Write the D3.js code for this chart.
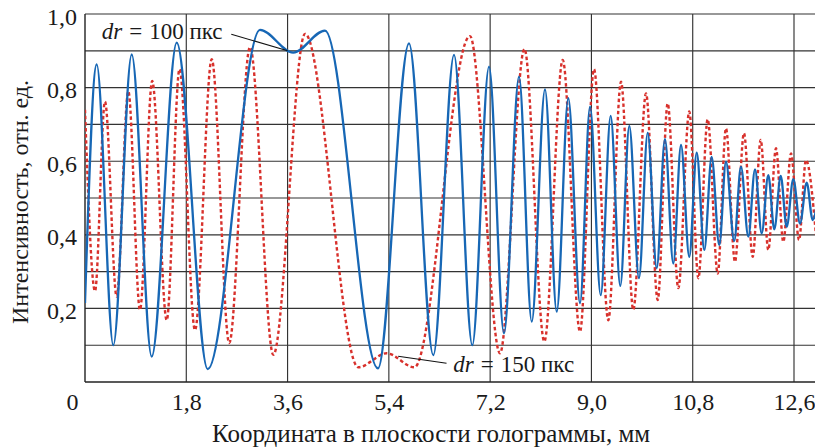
<!DOCTYPE html>
<html>
<head>
<meta charset="utf-8">
<style>
  body { margin: 0; background: #fff; }
  .grid line { stroke: #333; stroke-width: 1.15; }
</style>
</head>
<body>
<svg id="chart"></svg>
<script src="https://cdn.jsdelivr.net/npm/d3@7"></script>
<script>

var serif = "'Liberation Serif', 'Times New Roman', serif";

// tick values
var xTicks = [0, 1.8, 3.6, 5.4, 7.2, 9.0, 10.8, 12.6];
var yTicks = [0.2, 0.4, 0.6, 0.8, 1.0];
var yGrid = [0.1, 0.2, 0.3, 0.4, 0.5, 0.6, 0.7, 0.8, 0.9, 1.0];

// dr = 100 px curve (blue, solid): peaks and troughs
var blueX = [0, 0.208, 0.503, 0.83, 1.185, 1.63, 2.18, 3.11, 3.70, 4.265, 5.207,
  5.758, 6.19, 6.558, 6.883, 7.18, 7.446, 7.713, 7.939, 8.175, 8.383, 8.589,
  8.797, 8.975, 9.165, 9.342, 9.513, 9.673, 9.845, 10.0, 10.16, 10.307, 10.455,
  10.592, 10.739, 10.871, 11.006, 11.137, 11.272, 11.391, 11.537, 11.658, 11.788,
  11.907, 12.026, 12.143, 12.25, 12.364, 12.47, 12.588, 12.707, 12.826, 12.932, 13.05];
var blueY = [0.215, 0.863, 0.10, 0.89, 0.069, 0.922, 0.035, 0.957, 0.895, 0.955, 0.037,
  0.92, 0.073, 0.889, 0.10, 0.857, 0.132, 0.83, 0.164, 0.795, 0.191, 0.771,
  0.214, 0.748, 0.236, 0.723, 0.261, 0.696, 0.282, 0.677, 0.309, 0.66, 0.322,
  0.644, 0.34, 0.623, 0.359, 0.612, 0.372, 0.599, 0.383, 0.585, 0.395,
  0.578, 0.404, 0.562, 0.415, 0.56, 0.422, 0.551, 0.431, 0.542, 0.44, 0.535];

// dr = 150 px curve (red, dotted)
var redX = [0, 0.178, 0.355, 0.563, 0.77, 0.977, 1.194, 1.452, 1.68, 1.955, 2.252,
  2.563, 2.932, 3.346, 3.91, 4.857, 5.362, 5.852, 6.842, 7.375, 7.81, 8.163,
  8.49, 8.797, 9.046, 9.30, 9.526, 9.744, 9.97, 10.178, 10.355, 10.544, 10.739,
  10.9, 11.066, 11.244, 11.391, 11.551, 11.711, 11.866, 12.008, 12.143, 12.28,
  12.41, 12.547, 12.689, 12.813, 12.99];
var redY = [0.74, 0.247, 0.762, 0.232, 0.79, 0.196, 0.818, 0.168, 0.85, 0.141, 0.877,
  0.106, 0.91, 0.074, 0.946, 0.04, 0.078, 0.04, 0.94, 0.078, 0.905, 0.11,
  0.875, 0.137, 0.85, 0.168, 0.816, 0.196, 0.784, 0.223, 0.757, 0.255, 0.735,
  0.282, 0.714, 0.295, 0.689, 0.327, 0.676, 0.34, 0.658, 0.359, 0.635,
  0.381, 0.621, 0.386, 0.603, 0.40];

var blueData = blueX.map(function(d, i) { return {x: d, y: blueY[i]}; });
var redData = redX.map(function(d, i) { return {x: d, y: redY[i]}; });

// set the dimensions and margins of the graph
var svgWidth = 815, svgHeight = 448;
var margin = {top: 14, left: 85},
    width = 730,             // visible part of the plot, cut at the right edge
    height = 368;

// set the ranges (12.6 mm falls at 709 px)
var x = d3.scaleLinear().domain([0, 12.6]).range([0, 709]);
var y = d3.scaleLinear().domain([0, 1]).range([height, 0]);

// comma as decimal mark
var ru = d3.formatLocale({decimal: ",", thousands: " ", grouping: [3], currency: ["", ""]});
var fmt = function(d) { return d === 0 ? "0" : ru.format(".1f")(d); };

var svg = d3.select("#chart")
    .attr("width", svgWidth)
    .attr("height", svgHeight)
    .style("font-family", serif);

var g = svg.append("g")
    .attr("transform", "translate(" + margin.left + "," + margin.top + ")");

g.append("clipPath").attr("id", "clip")
  .append("rect")
    .attr("x", 0).attr("y", -5)
    .attr("width", width).attr("height", height + 10);

// grid lines
var grid = g.append("g").attr("class", "grid");

grid.selectAll(".hg")
    .data(yGrid)
  .enter().append("line")
    .attr("x1", 0).attr("x2", width)
    .attr("y1", function(d) { return y(d); })
    .attr("y2", function(d) { return y(d); });

grid.selectAll(".vg")
    .data(xTicks.slice(1))
  .enter().append("line")
    .attr("y1", 0).attr("y2", height)
    .attr("x1", function(d) { return x(d); })
    .attr("x2", function(d) { return x(d); });

// left and bottom axis lines
g.append("line")
    .attr("x1", 0).attr("x2", 0).attr("y1", 0).attr("y2", height)
    .attr("stroke", "#222").attr("stroke-width", 1.4);
g.append("line")
    .attr("x1", 0).attr("x2", width).attr("y1", height).attr("y2", height)
    .attr("stroke", "#222").attr("stroke-width", 1.4);

// the curves
var line = d3.line()
    .x(function(d) { return x(d.x); })
    .y(function(d) { return y(d.y); })
    .curve(d3.curveMonotoneX);

var curves = g.append("g").attr("clip-path", "url(#clip)");

curves.append("path")
    .datum(redData)
    .attr("fill", "none")
    .attr("stroke", "#d8312c")
    .attr("stroke-width", 2.4)
    .attr("stroke-dasharray", "3.5,2.6")
    .attr("d", line);

curves.append("path")
    .datum(blueData)
    .attr("fill", "none")
    .attr("stroke", "#1767b5")
    .attr("stroke-width", 2.3)
    .attr("d", line);

// X axis labels
var xAxis = g.append("g")
    .attr("transform", "translate(0," + height + ")")
    .call(d3.axisBottom(x).tickValues(xTicks).tickSize(0).tickFormat(fmt));
xAxis.select(".domain").remove();
xAxis.attr("font-family", null).attr("font-size", null);
xAxis.selectAll("text")
    .attr("y", 28).attr("dy", 0)
    .style("font-family", serif)
    .style("font-size", "24px")
    .attr("fill", "#1a1a1a");
xAxis.selectAll(".tick").filter(function(d) { return d === 0; })
  .select("text").attr("x", -13);

// Y axis labels
var yAxis = g.append("g")
    .call(d3.axisLeft(y).tickValues(yTicks).tickSize(0).tickPadding(8).tickFormat(fmt));
yAxis.select(".domain").remove();
yAxis.attr("font-family", null).attr("font-size", null);
yAxis.selectAll("text")
    .attr("dy", "0.42em")
    .style("font-family", serif)
    .style("font-size", "24px")
    .attr("fill", "#1a1a1a");

// axis titles
svg.append("text")
    .attr("x", 431).attr("y", 442)
    .attr("text-anchor", "middle")
    .attr("fill", "#1a1a1a")
    .style("font-family", serif)
    .style("font-size", "25px")
    .text("Координата в плоскости голограммы, мм");

svg.append("text")
    .attr("transform", "translate(28,202) rotate(-90)")
    .attr("text-anchor", "middle")
    .attr("fill", "#1a1a1a")
    .style("font-family", serif)
    .style("font-size", "24px")
    .text("Интенсивность, отн. ед.");

// curve labels with leader lines
function label(xv, yv, txt) {
  var t = g.append("text")
      .attr("x", x(xv)).attr("y", y(yv))
      .attr("fill", "#1a1a1a")
      .style("font-family", serif)
      .style("font-size", "23px");
  t.append("tspan").style("font-style", "italic").text("dr");
  t.append("tspan").attr("dx", 7).text("=");
  t.append("tspan").attr("dx", 7).text(txt);
}

label(0.297, 0.931, "100 пкс");
label(6.545, 0.027, "150 пкс");

g.append("line")
    .attr("x1", x(2.6)).attr("y1", y(0.945))
    .attr("x2", x(3.6)).attr("y2", y(0.9))
    .attr("stroke", "#111").attr("stroke-width", 1.1);

g.append("line")
    .attr("x1", x(5.565)).attr("y1", y(0.07))
    .attr("x2", x(6.425)).attr("y2", y(0.051))
    .attr("stroke", "#111").attr("stroke-width", 1.1);

</script>
</body>
</html>
